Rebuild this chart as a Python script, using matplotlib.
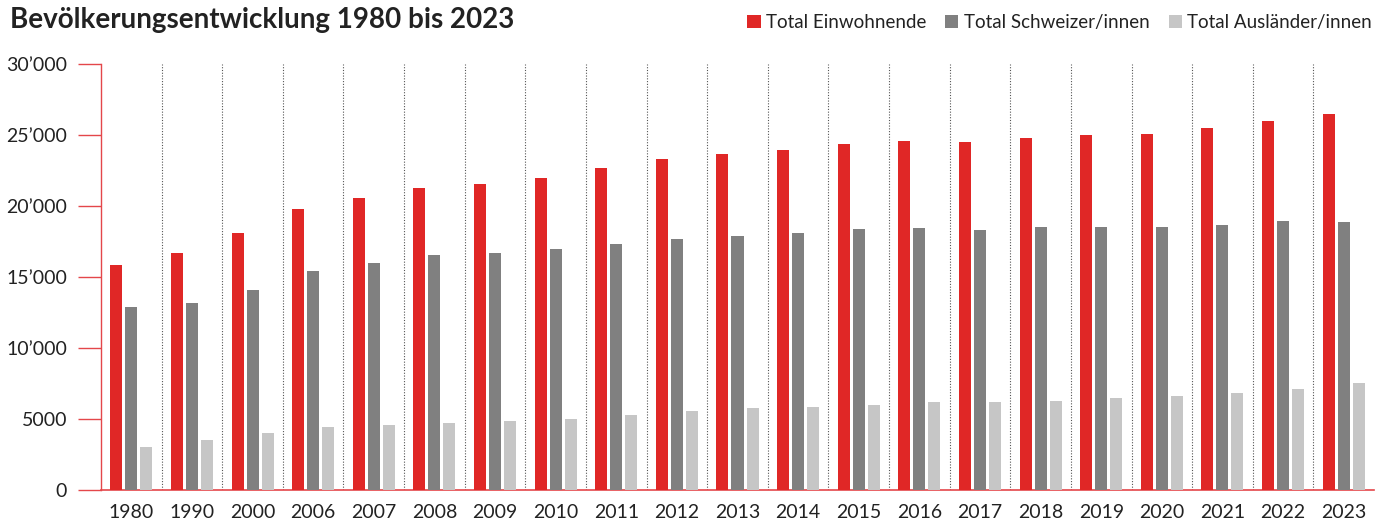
import numpy as np
import matplotlib
matplotlib.use("Agg")
import matplotlib.pyplot as plt

years = ["1980", "1990", "2000", "2006", "2007", "2008", "2009", "2010", "2011",
         "2012", "2013", "2014", "2015", "2016", "2017", "2018", "2019", "2020",
         "2021", "2022", "2023"]
total = [15840, 16680, 18090, 19780, 20560, 21260, 21540, 21970, 22670, 23300,
         23660, 23940, 24360, 24570, 24500, 24790, 25000, 25070, 25490, 25980,
         26480]
swiss = [12880, 13160, 14070, 15410, 15980, 16540, 16680, 16960, 17320, 17670,
         17880, 18090, 18370, 18440, 18300, 18510, 18510, 18510, 18650, 18940,
         18870]
foreign = [3010, 3500, 4000, 4420, 4560, 4700, 4840, 4980, 5260, 5550, 5760,
           5830, 5970, 6180, 6180, 6250, 6460, 6600, 6820, 7100, 7520]
series_names = ["Total Einwohnende", "Total Schweizer/innen", "Total Ausländer/innen"]
y_ticks = [0, 5000, 10000, 15000, 20000, 25000, 30000]
y_labels = ["0", "5000", "10’000", "15’000", "20’000", "25’000", "30’000"]

RED = "#E02726"
GREY = "#808080"
LIGHT = "#C6C6C6"
AXIS_RED = "#E4474A"
TXT = "#222222"

plt.rcParams["font.family"] = ["Lato", "DejaVu Sans"]

fig = plt.figure(figsize=(13.76, 5.2), dpi=100)
ax = fig.add_axes([101 / 1376, 30 / 520, 1273 / 1376, 426 / 520])

x = np.arange(len(years))
w = 0.198
off = 0.2475
b1 = ax.bar(x - off, total, w, color=RED, label=series_names[0], zorder=3)
b2 = ax.bar(x, swiss, w, color=GREY, label=series_names[1], zorder=3)
b3 = ax.bar(x + off, foreign, w, color=LIGHT, label=series_names[2], zorder=3)

# dotted separators between the years
ax.vlines(x[:-1] + 0.5, 0, 30000, colors="#555555", lw=0.8,
          linestyles=(0, (1, 1.5)), zorder=1)

ax.set_xlim(-0.5, len(years) - 0.5)
ax.set_ylim(0, 30000)
ax.set_yticks(y_ticks)
ax.set_yticklabels(y_labels)
ax.set_xticks(x)
ax.set_xticklabels(years)

for s in ("top", "right"):
    ax.spines[s].set_visible(False)
ax.spines["left"].set_color(AXIS_RED)
ax.spines["bottom"].set_color(AXIS_RED)
ax.spines["left"].set_linewidth(1.0)
ax.spines["bottom"].set_linewidth(1.2)

ax.tick_params(axis="y", length=16.5, width=1.0, color=AXIS_RED, pad=8,
               labelsize=14, labelcolor=TXT)
ax.tick_params(axis="x", length=0, pad=10, labelsize=14, labelcolor=TXT)

fig.text(10 / 1376, 1 - 20 / 520, "Bevölkerungsentwicklung 1980 bis 2023",
         fontsize=20, fontweight="bold", color=TXT, va="center", ha="left")

fig.legend(handles=[b1, b2, b3], loc="center right",
           bbox_to_anchor=(1372 / 1376, 1 - 22.5 / 520), ncol=3, frameon=False,
           fontsize=13.5, handlelength=0.7, handleheight=0.75, handletextpad=0.3,
           columnspacing=1.0, labelcolor=TXT, borderaxespad=0, borderpad=0)

fig.savefig("out.png", dpi=100)
